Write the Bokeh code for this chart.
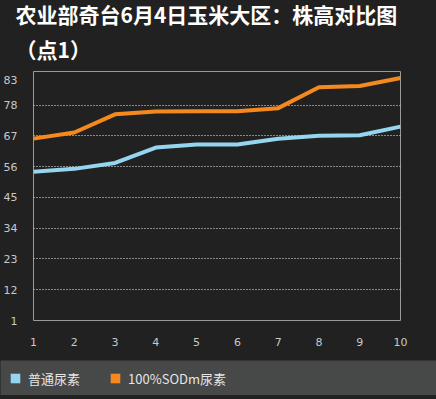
from bokeh.plotting import figure
from bokeh.models import (Range1d, FixedTicker, Title, Legend, LegendItem,
                          ColumnDataSource)
from bokeh.embed import file_html
from bokeh.resources import INLINE

# ---- data ----
points = [1, 2, 3, 4, 5, 6, 7, 8, 9, 10]
urea = [54.2, 55.2, 57.3, 62.8, 63.9, 63.9, 66.0, 67.0, 67.2, 70.3]
sodm_urea = [66.0, 68.2, 74.7, 75.7, 75.8, 75.8, 76.9, 84.4, 84.8, 87.7]
series_names = ["普通尿素", "100%SODm尿素"]
y_tick_values = [1, 12, 23, 34, 45, 56, 67, 78, 87]
y_tick_labels = ["1", "12", "23", "34", "45", "56", "67", "78", "83"]
grid_values = [12, 23, 34, 45, 56, 67, 78]
title_line1 = "农业部奇台6月4日玉米大区：株高对比图"
title_line2 = "（点1）"

BG = "#212121"
BAND = "#474848"
BLUE = "#95d5ef"
ORANGE = "#f5891e"
CJK = "Noto Sans CJK SC"

src = ColumnDataSource(dict(x=points, a=urea, b=sodm_urea))

p = figure(width=436, height=360, x_range=Range1d(1, 10), y_range=Range1d(1, 90),
           output_backend="svg", toolbar_location=None,
           background_fill_color=BG, border_fill_color=BG,
           min_border_left=30, min_border_right=36, min_border_top=0,
           min_border_bottom=40)


def make_title(text, standoff, fallback):
    kw = dict(text=text, text_font=CJK, text_font_size="21px",
              text_font_style="bold", text_color="white", align="left",
              offset=-18)
    try:
        return Title(standoff=standoff, **kw)
    except Exception:
        return Title(standoff=fallback, **kw)


p.add_layout(make_title(title_line2, 15, 15), "above")
p.add_layout(make_title(title_line1, -8, 0), "above")

p.outline_line_color = "#9a9a9a"
p.outline_line_width = 1

p.xaxis.ticker = FixedTicker(ticks=points)
p.yaxis.ticker = FixedTicker(ticks=y_tick_values)
p.yaxis.major_label_overrides = {v: l for v, l in zip(y_tick_values, y_tick_labels)}
for ax in (p.xaxis[0], p.yaxis[0]):
    ax.axis_line_color = None
    ax.major_tick_line_color = None
    ax.minor_tick_line_color = None
    ax.major_label_text_color = "#c8c8c8"
    ax.major_label_text_font = "DejaVu Sans"
    ax.major_label_text_font_size = "11px"
p.xaxis.major_label_standoff = 11
p.yaxis.major_label_standoff = 10

p.xgrid.visible = False
p.ygrid.ticker = FixedTicker(ticks=grid_values)
p.ygrid.grid_line_color = "#f0f0f0"
p.ygrid.grid_line_dash = "1 2"
p.ygrid.grid_line_width = 1

p.line("x", "a", source=src, line_color=BLUE, line_width=4)
p.line("x", "b", source=src, line_color=ORANGE, line_width=4)

# legend band (separate root, so its frame is not aligned to the chart's frame)
p2 = figure(width=436, height=35, output_backend="svg", toolbar_location=None,
            x_axis_type=None, y_axis_type=None,
            background_fill_color=BAND, border_fill_color=BAND,
            min_border=0, outline_line_color=None)
p2.grid.visible = False
ra = p2.vbar(x="x", top="a", width=0.5, source=src, fill_color=BLUE,
             line_color=None, visible=False)
rb = p2.vbar(x="x", top="b", width=0.5, source=src, fill_color=ORANGE,
             line_color=None, visible=False)
legend = Legend(items=[LegendItem(label=series_names[0], renderers=[ra]),
                       LegendItem(label=series_names[1], renderers=[rb])],
                orientation="horizontal", location=(9, 7),
                background_fill_alpha=0, border_line_color=None,
                padding=0, margin=0, spacing=29,
                glyph_width=12, glyph_height=12, label_height=20,
                label_standoff=7, label_text_font=CJK,
                label_text_font_size="13px", label_text_color="#e6e6e6",
                inactive_fill_alpha=0)
p2.add_layout(legend)

html = file_html([p, p2], INLINE)
html = html.replace("</head>", "<style>html, body { background-color: %s; }</style></head>" % BG, 1)
open("out.html", "w").write(html)
